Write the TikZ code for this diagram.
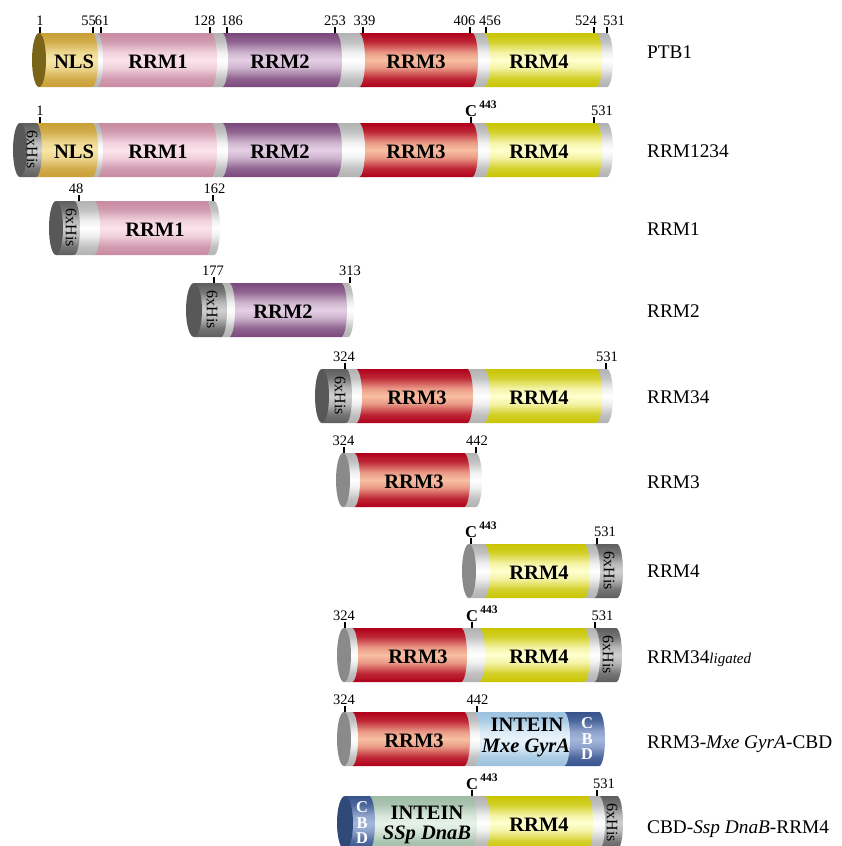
\documentclass[tikz,border=0pt]{standalone}
\usepackage{fontspec}
\setmainfont{Liberation Serif}
\usepackage{tikz}
\usepackage{xcolor}
\usetikzlibrary{positioning}

\definecolor{banddark}{HTML}{B2B2B2}
\definecolor{bandlight}{HTML}{FFFFFF}
\definecolor{nlsdark}{HTML}{C99E35}
\definecolor{nlslight}{HTML}{F7E6A8}
\definecolor{rrmadark}{HTML}{C78AA1}
\definecolor{rrmalight}{HTML}{FBE3EC}
\definecolor{rrmbdark}{HTML}{7A497C}
\definecolor{rrmblight}{HTML}{E4D0E4}
\definecolor{rrmcdark}{HTML}{B0001A}
\definecolor{rrmclight}{HTML}{F8C0A2}
\definecolor{rrmddark}{HTML}{C8C400}
\definecolor{rrmdlight}{HTML}{FFFFD0}
\definecolor{hisdark}{HTML}{5E5E5E}
\definecolor{hislight}{HTML}{D0D0D0}
\definecolor{gyradark}{HTML}{9CC2DF}
\definecolor{gyralight}{HTML}{E9F4FC}
\definecolor{cbddark}{HTML}{36538D}
\definecolor{cbdlight}{HTML}{A5B6DB}
\definecolor{dnabdark}{HTML}{9CBAA4}
\definecolor{dnablight}{HTML}{E7F2E8}
\definecolor{capnls}{HTML}{7A6418}
\definecolor{caphis}{HTML}{585858}
\definecolor{capgray}{HTML}{8A8A8A}
\definecolor{capcbd}{HTML}{2F4A78}
\colorlet{cyldark}{black}
\colorlet{cyllight}{white}

\pgfdeclareverticalshading[cyldark,cyllight]{cylinder}{100bp}{%
  color(0bp)=(cyldark); color(25bp)=(cyldark);
  color(33bp)=(cyldark!80!cyllight); color(43bp)=(cyldark!20!cyllight);
  color(50bp)=(cyllight);
  color(57bp)=(cyldark!20!cyllight); color(67bp)=(cyldark!80!cyllight);
  color(75bp)=(cyldark); color(100bp)=(cyldark)}

\newcommand{\cylseg}[3]{\shade[#3] (#1,27) -- (#2,27)
  arc[start angle=90, end angle=-90, x radius=6, y radius=27] -- (#1,-27) -- cycle;}

\begin{document}
\begin{tikzpicture}[x=1pt, y=1pt,
    cyl/.style 2 args={/utils/exec={\colorlet{cyldark}{#1}\colorlet{cyllight}{#2}}, shading=cylinder},
    band/.style={cyl={banddark}{bandlight}},
    nls/.style={cyl={nlsdark}{nlslight}},
    rrma/.style={cyl={rrmadark}{rrmalight}},
    rrmb/.style={cyl={rrmbdark}{rrmblight}},
    rrmc/.style={cyl={rrmcdark}{rrmclight}},
    rrmd/.style={cyl={rrmddark}{rrmdlight}},
    his/.style={cyl={hisdark}{hislight}},
    gyra/.style={cyl={gyradark}{gyralight}},
    cbd/.style={cyl={cbddark}{cbdlight}},
    dnab/.style={cyl={dnabdark}{dnablight}},
    tick/.style={line width=2pt},
    num/.style={font=\fontsize{14.5}{16}\selectfont, anchor=south, inner sep=1pt},
    dom/.style={font=\fontsize{20.5}{22}\selectfont\bfseries, inner sep=0pt},
    hislabel/.style={rotate=-90, font=\fontsize{16}{16}\selectfont, inner sep=0pt},
    cbdletters/.style={text=white, font=\fontsize{16.5}{15.5}\selectfont\bfseries, align=center, inner sep=0pt},
    ctag/.style={font=\fontsize{16.5}{18}\selectfont\bfseries, anchor=south, inner sep=0.5pt},
    protlabel/.style={anchor=base west, font=\fontsize{19.3}{22}\selectfont, inner sep=0pt}]
  \useasboundingbox (0,-846) rectangle (842,0);

  \begin{scope}[shift={(0,-60)}]
    \cylseg{596}{607}{band}
    \cylseg{484}{596}{rrmd}
    \cylseg{472}{484}{band}
    \cylseg{359}{472}{rrmc}
    \cylseg{336}{359}{band}
    \cylseg{222}{336}{rrmb}
    \cylseg{211}{222}{band}
    \cylseg{97}{211}{rrma}
    \cylseg{92}{97}{band}
    \cylseg{39}{92}{nls}
    \fill[capnls] (39,0) ellipse[x radius=7, y radius=27];
    \foreach \x in {40,93,101,210,227,335,363,470,486,594,607}
      \draw[tick] (\x,27) -- (\x,33);
    \foreach \x/\t in {40/1, 88.5/55, 102/61, 204.5/128, 232/186, 335/253, 364.5/339, 464.5/406, 490/456, 586/524, 614/531}
      \node[num] (ptb\t) at (\x,33) {\t};
    \node[dom] (ptbnls) at (74,-2) {NLS};
    \node[dom] (ptbrrma) at (158,-2) {RRM1};
    \node[dom] (ptbrrmb) at (280,-2) {RRM2};
    \node[dom] (ptbrrmc) at (416,-2) {RRM3};
    \node[dom] (ptbrrmd) at (539,-2) {RRM4};
    \node[protlabel] (ptbname) at (647,2) {PTB1};
  \end{scope}

  \begin{scope}[shift={(0,-150)}]
    \cylseg{596}{607}{band}
    \cylseg{484}{596}{rrmd}
    \cylseg{472}{484}{band}
    \cylseg{359}{472}{rrmc}
    \cylseg{336}{359}{band}
    \cylseg{222}{336}{rrmb}
    \cylseg{211}{222}{band}
    \cylseg{97}{211}{rrma}
    \cylseg{92}{97}{band}
    \cylseg{36}{92}{nls}
    \cylseg{20}{36}{his}
    \fill[caphis] (20,0) ellipse[x radius=7, y radius=27];
    \foreach \x in {40,471,594}
      \draw[tick] (\x,27) -- (\x,33);
    \node[num] (fullone) at (40,33) {1};
    \node[ctag] (fullc) at (471,33) {C\rlap{\hspace{2.5pt}\raisebox{8pt}{\fontsize{11.5}{12}\selectfont 443}}};
    \node[num] (fullend) at (602,33) {531};
    \node[hislabel] (fullhis) at (32,0) {6xHis};
    \node[dom] (fullnls) at (74,-2) {NLS};
    \node[dom] (fullrrma) at (158,-2) {RRM1};
    \node[dom] (fullrrmb) at (280,-2) {RRM2};
    \node[dom] (fullrrmc) at (416,-2) {RRM3};
    \node[dom] (fullrrmd) at (539,-2) {RRM4};
    \node[protlabel] (fullname) at (647,-7) {RRM1234};
  \end{scope}

  \begin{scope}[shift={(0,-228)}]
    \cylseg{206}{214}{band}
    \cylseg{94}{206}{rrma}
    \cylseg{74}{94}{band}
    \cylseg{56}{74}{his}
    \fill[caphis] (56,0) ellipse[x radius=7, y radius=27];
    \foreach \x in {79,213}
      \draw[tick] (\x,27) -- (\x,33);
    \node[num] (onestart) at (76,33) {48};
    \node[num] (oneend) at (214.5,33) {162};
    \node[hislabel] (onehis) at (71,0) {6xHis};
    \node[dom] (onerrma) at (155,-2) {RRM1};
    \node[protlabel] (onename) at (647,-7) {RRM1};
  \end{scope}

  \begin{scope}[shift={(0,-310)}]
    \cylseg{341}{348}{band}
    \cylseg{229}{341}{rrmb}
    \cylseg{221}{229}{band}
    \cylseg{194}{221}{his}
    \fill[caphis] (194,0) ellipse[x radius=8, y radius=27];
    \foreach \x in {214,350}
      \draw[tick] (\x,27) -- (\x,33);
    \node[num] (twostart) at (213,33) {177};
    \node[num] (twoend) at (350,33) {313};
    \node[hislabel] (twohis) at (212,0) {6xHis};
    \node[dom] (tworrmb) at (283,-2) {RRM2};
    \node[protlabel] (twoname) at (647,-7) {RRM2};
  \end{scope}

  \begin{scope}[shift={(0,-396)}]
    \cylseg{596}{607}{band}
    \cylseg{484}{596}{rrmd}
    \cylseg{467}{484}{band}
    \cylseg{356}{467}{rrmc}
    \cylseg{346}{356}{band}
    \cylseg{322}{346}{his}
    \fill[caphis] (322,0) ellipse[x radius=7, y radius=27];
    \foreach \x in {345,606}
      \draw[tick] (\x,27) -- (\x,33);
    \node[num] (tfstart) at (344,33) {324};
    \node[num] (tfend) at (607,33) {531};
    \node[hislabel] (tfhis) at (340,0) {6xHis};
    \node[dom] (tfrrmc) at (417,-2) {RRM3};
    \node[dom] (tfrrmd) at (539,-2) {RRM4};
    \node[protlabel] (tfname) at (647,-7) {RRM34};
  \end{scope}

  \begin{scope}[shift={(0,-480)}]
    \cylseg{464}{476}{band}
    \cylseg{354}{464}{rrmc}
    \cylseg{343}{354}{band}
    \fill[capgray] (343,0) ellipse[x radius=7, y radius=27];
    \foreach \x in {344,476}
      \draw[tick] (\x,27) -- (\x,33);
    \node[num] (threestart) at (343.5,33) {324};
    \node[num] (threeend) at (477,33) {442};
    \node[dom] (threerrmc) at (414,-2) {RRM3};
    \node[protlabel] (threename) at (647,-8) {RRM3};
  \end{scope}

  \begin{scope}[shift={(0,-571)}]
    \cylseg{594}{617}{his}
    \cylseg{584}{594}{band}
    \cylseg{484}{584}{rrmd}
    \cylseg{469}{484}{band}
    \fill[capgray] (469,0) ellipse[x radius=7, y radius=27];
    \foreach \x in {471,597}
      \draw[tick] (\x,27) -- (\x,33);
    \node[ctag] (fourc) at (471,33) {C\rlap{\hspace{2.5pt}\raisebox{8pt}{\fontsize{11.5}{12}\selectfont 443}}};
    \node[num] (fourend) at (605,33) {531};
    \node[dom] (fourrrmd) at (539,-2) {RRM4};
    \node[hislabel] (fourhis) at (609,0) {6xHis};
    \node[protlabel] (fourname) at (647,-6) {RRM4};
  \end{scope}

  \begin{scope}[shift={(0,-655)}]
    \cylseg{594}{616}{his}
    \cylseg{584}{594}{band}
    \cylseg{479}{584}{rrmd}
    \cylseg{461}{479}{band}
    \cylseg{352}{461}{rrmc}
    \cylseg{344}{352}{band}
    \fill[capgray] (344,0) ellipse[x radius=7, y radius=27];
    \foreach \x in {345,472,595}
      \draw[tick] (\x,27) -- (\x,33);
    \node[num] (ligstart) at (344,33) {324};
    \node[ctag] (ligc) at (472,33) {C\rlap{\hspace{2.5pt}\raisebox{8pt}{\fontsize{11.5}{12}\selectfont 443}}};
    \node[num] (ligend) at (602.5,33) {531};
    \node[dom] (ligrrmc) at (418,-2) {RRM3};
    \node[dom] (ligrrmd) at (539,-2) {RRM4};
    \node[hislabel] (lighis) at (608,0) {6xHis};
    \node[protlabel] (ligname) at (647,-8) {RRM34{\fontsize{15}{16}\selectfont\itshape ligated}};
  \end{scope}

  \begin{scope}[shift={(0,-739)}]
    \cylseg{564}{599}{cbd}
    \cylseg{474}{564}{gyra}
    \cylseg{464}{474}{band}
    \cylseg{352}{464}{rrmc}
    \cylseg{344}{352}{band}
    \fill[capgray] (344,0) ellipse[x radius=7, y radius=27];
    \foreach \x in {345,477}
      \draw[tick] (\x,27) -- (\x,33);
    \node[num] (mxestart) at (344,33) {324};
    \node[num] (mxeend) at (477.5,33) {442};
    \node[dom] (mxerrmc) at (414,-2) {RRM3};
    \node[dom] (mxeintein) at (527,14) {INTEIN};
    \node[dom] (mxegyra) at (526,-9) {\itshape Mxe GyrA};
    \node[cbdletters] (mxecbd) at (587,0) {C\\B\\D};
    \node[protlabel] (mxename) at (647,-9) {RRM3-\textit{Mxe GyrA}-CBD};
  \end{scope}

  \begin{scope}[shift={(0,-823)}]
    \cylseg{599}{617}{his}
    \cylseg{587}{599}{band}
    \cylseg{484}{587}{rrmd}
    \cylseg{471}{484}{band}
    \cylseg{369}{471}{dnab}
    \cylseg{345}{369}{cbd}
    \fill[capcbd] (345,0) ellipse[x radius=8, y radius=27];
    \foreach \x in {472,597}
      \draw[tick] (\x,27) -- (\x,33);
    \node[ctag] (sspc) at (472,33) {C\rlap{\hspace{2.5pt}\raisebox{8pt}{\fontsize{11.5}{12}\selectfont 443}}};
    \node[num] (sspend) at (604,33) {531};
    \node[cbdletters] (sspcbd) at (362,0) {C\\B\\D};
    \node[dom] (sspintein) at (427,10) {INTEIN};
    \node[dom] (sspdnab) at (427,-12) {\itshape SSp DnaB};
    \node[dom] (ssprrmd) at (539,-2) {RRM4};
    \node[hislabel] (ssphis) at (612,0) {6xHis};
    \node[protlabel] (sspname) at (647,-10) {CBD-\textit{Ssp DnaB}-RRM4};
  \end{scope}
\end{tikzpicture}
\end{document}
